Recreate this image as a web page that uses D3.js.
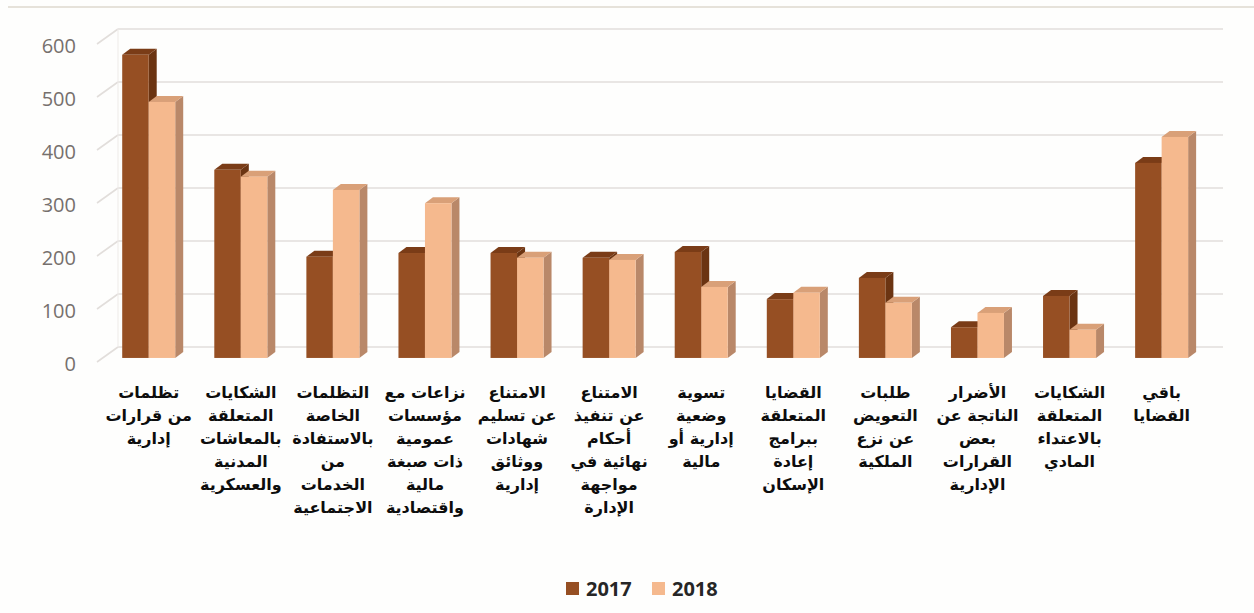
<!DOCTYPE html>
<html>
<head>
<meta charset="utf-8">
<script src="https://cdn.jsdelivr.net/npm/d3@7"></script>
<style>
  body { margin: 0; background: #fefefd; }
  svg { display: block; }
</style>
</head>
<body>
<script>
const width = 1254
const height = 613

// category labels, one array of lines per category
const categories = [
  ["تظلمات", "من قرارات", "إدارية"],
  ["الشكايات", "المتعلقة", "بالمعاشات", "المدنية", "والعسكرية"],
  ["التظلمات", "الخاصة", "بالاستفادة", "من", "الخدمات", "الاجتماعية"],
  ["نزاعات مع", "مؤسسات", "عمومية", "ذات صبغة", "مالية", "واقتصادية"],
  ["الامتناع", "عن تسليم", "شهادات", "ووثائق", "إدارية"],
  ["الامتناع", "عن تنفيذ", "أحكام", "نهائية في", "مواجهة", "الإدارة"],
  ["تسوية", "وضعية", "إدارية أو", "مالية"],
  ["القضايا", "المتعلقة", "ببرامج", "إعادة", "الإسكان"],
  ["طلبات", "التعويض", "عن نزع", "الملكية"],
  ["الأضرار", "الناتجة عن", "بعض", "القرارات", "الإدارية"],
  ["الشكايات", "المتعلقة", "بالاعتداء", "المادي"],
  ["باقي", "القضايا"]
]

const series = ["2017", "2018"]
const values2017 = [572, 355, 191, 198, 198, 189, 200, 111, 151, 58, 117, 368]
const values2018 = [483, 342, 317, 292, 189, 185, 134, 123, 104, 85, 53, 417]
const yTicks = [0, 100, 200, 300, 400, 500, 600]

const colors = {
  "2017": { front: "#964f23", top: "#7a3c17", side: "#6b3412" },
  "2018": { front: "#f5b98e", top: "#d9a078", side: "#b98869" }
}

// oblique 3d settings (pixels)
const depthX = 21
const depthY = -15
const barPlane = 0.27 // where the bar fronts sit along the depth
const barDx = 8
const barDy = -6

const idx = d3.range(categories.length)

const x = d3.scaleBand().domain(idx).range([97, 1202])
const y = d3.scaleLinear().domain([0, 600]).range([362, 44])
const xInner = d3.scaleBand().domain(series).range([0, 53])

const svg = d3.select("body").append("svg")
  .attr("width", width)
  .attr("height", height)

// frame line at top
svg.append("line")
  .attr("x1", 8).attr("x2", width).attr("y1", 7).attr("y2", 7)
  .attr("stroke", "#e6e2da").attr("stroke-width", 2)

const grid = svg.append("g")

// back wall gridlines
grid.selectAll(".back")
  .data(yTicks)
  .enter()
  .append("line")
  .attr("x1", x.range()[0] + depthX)
  .attr("x2", x.range()[1] + depthX)
  .attr("y1", d => y(d) + depthY)
  .attr("y2", d => y(d) + depthY)
  .attr("stroke", "#e2dedb")
  .attr("stroke-width", 1.6)

// side wall diagonals
grid.selectAll(".side")
  .data(yTicks)
  .enter()
  .append("line")
  .attr("x1", x.range()[0])
  .attr("x2", x.range()[0] + depthX)
  .attr("y1", d => y(d))
  .attr("y2", d => y(d) + depthY)
  .attr("stroke", "#e2dedb")
  .attr("stroke-width", 1.6)

grid.append("line")
  .attr("x1", x.range()[0] + depthX).attr("x2", x.range()[0] + depthX)
  .attr("y1", y(600) + depthY).attr("y2", y(0) + depthY)
  .attr("stroke", "#eeebe8").attr("stroke-width", 1)

// y labels
svg.selectAll(".ylab")
  .data(yTicks)
  .enter()
  .append("text")
  .attr("x", 76)
  .attr("y", d => y(d) + 2)
  .attr("dy", "0.35em")
  .attr("text-anchor", "end")
  .attr("font-family", "Open Sans, sans-serif")
  .attr("font-size", 20)
  .attr("fill", "#76706d")
  .text(d => d)

// bars
const offX = depthX * barPlane
const offY = depthY * barPlane

const rows = idx.flatMap(i => [
  { i, s: "2017", v: values2017[i] },
  { i, s: "2018", v: values2018[i] }
])

const groupLeft = i => x(i) + x.bandwidth() / 2 - xInner.range()[1] / 2 + offX

const bars = svg.append("g")
  .selectAll("g")
  .data(rows)
  .enter()
  .append("g")

bars.each(function (d) {
  const g = d3.select(this)
  const x0 = groupLeft(d.i) + xInner(d.s)
  const x1 = x0 + xInner.bandwidth()
  const yb = y(0) + offY
  const yt = y(d.v) + offY
  const c = colors[d.s]

  g.append("path")
    .attr("d", `M${x1},${yt}L${x1 + barDx},${yt + barDy}L${x1 + barDx},${yb + barDy}L${x1},${yb}Z`)
    .attr("fill", c.side)
  g.append("path")
    .attr("d", `M${x0},${yt}L${x0 + barDx},${yt + barDy}L${x1 + barDx},${yt + barDy}L${x1},${yt}Z`)
    .attr("fill", c.top)
  g.append("rect")
    .attr("x", x0)
    .attr("y", yt)
    .attr("width", x1 - x0)
    .attr("height", yb - yt)
    .attr("fill", c.front)
})

// category labels
const labels = svg.append("g")
  .selectAll("text")
  .data(idx)
  .enter()
  .append("text")
  .attr("text-anchor", "middle")
  .attr("font-family", "DejaVu Sans, sans-serif")
  .attr("font-weight", "bold")
  .attr("font-size", 16)
  .attr("fill", "#0d0d0d")

labels.selectAll("tspan")
  .data(i => categories[i].map((t, k) => ({ t, k, i })))
  .enter()
  .append("tspan")
  .attr("x", d => groupLeft(d.i) + xInner.range()[1] / 2)
  .attr("y", d => 398 + d.k * 23)
  .text(d => d.t)

// legend
const legend = svg.append("g").attr("transform", "translate(566,589)")
const items = legend.selectAll("g")
  .data(series)
  .enter()
  .append("g")
  .attr("transform", (d, k) => `translate(${k * 86},0)`)

items.append("rect")
  .attr("x", 0).attr("y", -7)
  .attr("width", 13).attr("height", 13)
  .attr("fill", d => colors[d].front)

items.append("text")
  .attr("x", 20)
  .attr("dy", "0.35em")
  .attr("font-family", "Open Sans, sans-serif")
  .attr("font-weight", "bold")
  .attr("font-size", 20)
  .attr("fill", "#262626")
  .text(d => d)
</script>
</body>
</html>
